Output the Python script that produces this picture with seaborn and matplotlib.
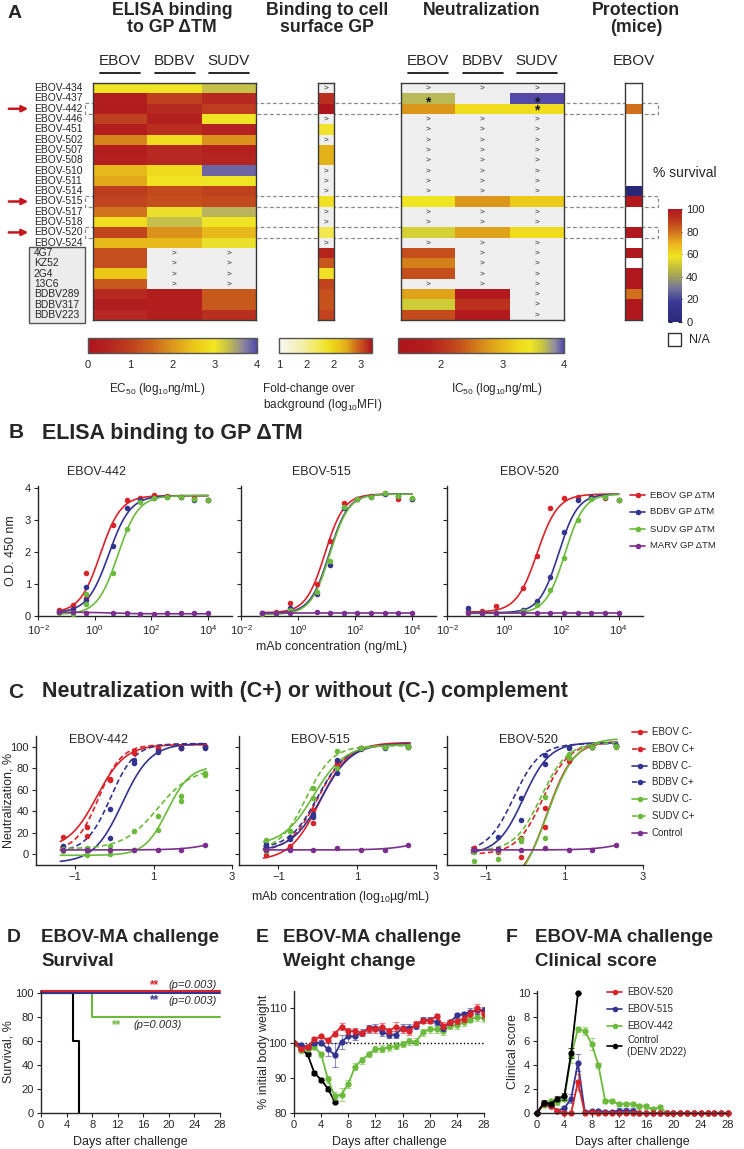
import numpy as np
import pandas as pd
import matplotlib
matplotlib.use('Agg')
import matplotlib.pyplot as plt
import matplotlib.cm as cm
import seaborn as sns
from matplotlib.colors import LinearSegmentedColormap, Normalize
from matplotlib.patches import Rectangle
from matplotlib.ticker import NullLocator

sns.set_style('ticks')
plt.rcParams['font.family'] = ['Liberation Sans', 'DejaVu Sans']
plt.rcParams['mathtext.fontset'] = 'custom'
plt.rcParams['mathtext.rm'] = 'Liberation Sans'
plt.rcParams['mathtext.it'] = 'Liberation Sans:italic'
plt.rcParams['mathtext.bf'] = 'Liberation Sans:bold'
plt.rcParams['mathtext.default'] = 'regular'

# ---------------- data: panel A ----------------
ND = np.inf      # ">" (not reached)
NA = np.nan      # blank
rows = ['EBOV-434', 'EBOV-437', 'EBOV-442', 'EBOV-446', 'EBOV-451', 'EBOV-502',
        'EBOV-507', 'EBOV-508', 'EBOV-510', 'EBOV-511', 'EBOV-514', 'EBOV-515',
        'EBOV-517', 'EBOV-518', 'EBOV-520', 'EBOV-524', '4G7', 'KZ52', '2G4',
        '13C6', 'BDBV289', 'BDBV317', 'BDBV223']
highlight = ['EBOV-442', 'EBOV-515', 'EBOV-520']
controls = ['4G7', 'KZ52', '2G4', '13C6', 'BDBV289', 'BDBV317', 'BDBV223']
viruses = ['EBOV', 'BDBV', 'SUDV']

# ELISA EC50 (log10 ng/mL)
elisa_ebov = [3.0, 0.3, 0.25, 1.0, 0.3, 1.8, 0.3, 0.35, 2.35, 2.2, 0.95, 1.05,
              1.65, 2.85, 1.05, 2.35, 1.2, 1.2, 2.5, 1.35, 0.6, 0.25, 0.55]
elisa_bdbv = [3.0, 1.0, 0.6, 0.4, 0.7, 2.85, 0.6, 0.55, 2.8, 2.95, 1.15, 1.2,
              3.05, 3.3, 1.95, 2.35, ND, ND, ND, ND, 0.3, 0.3, 0.3]
elisa_sudv = [3.3, 0.6, 0.95, 3.0, 0.45, 1.95, 0.4, 0.5, 3.85, 3.0, 1.0, 1.15,
              3.4, 3.0, 2.35, 3.05, ND, ND, ND, ND, 1.35, 1.35, 0.7]
# cell-surface GP binding (log10 MFI fold change)
cell_fold = [ND, 2.62, 2.72, ND, 1.85, ND, 2.2, 2.2, ND, ND, ND, 1.88,
             ND, ND, 1.75, ND, 2.65, 2.48, 1.88, 2.55, 2.5, 2.5, 2.55]
# neutralization IC50 (log10 ng/mL)
neut_ebov = [ND, 3.7, 2.75, ND, ND, ND, ND, ND, ND, ND, ND, 3.42,
             ND, ND, 3.58, ND, 2.3, 2.6, 2.3, ND, 2.85, 3.62, 2.25]
neut_bdbv = [ND, NA, 3.3, ND, ND, ND, ND, ND, ND, ND, ND, 2.75,
             ND, ND, 2.85, ND, ND, ND, ND, ND, 1.6, 2.0, 1.6]
neut_sudv = [ND, 4.0, 3.3, ND, ND, ND, ND, ND, ND, ND, ND, 3.15,
             ND, ND, 3.3, ND, ND, ND, ND, ND, ND, ND, ND]
neut_stars = [('EBOV-437', 'EBOV'), ('EBOV-437', 'SUDV'), ('EBOV-442', 'SUDV')]
# protection, % survival
survival_pct = [NA, NA, 80, NA, NA, NA, NA, NA, NA, NA, 0, 100,
                NA, NA, 100, NA, 100, NA, 100, 100, 80, 100, 100]

# ---------------- data: panel B (ELISA curves) ----------------
elisa_logc = [-1.25, -0.77, -0.29, 0.66, 1.14, 1.61, 2.09, 2.57, 3.05, 3.52, 4.0]
antigens = ['EBOV', 'BDBV', 'SUDV', 'MARV']
elisa_442 = {'EBOV': [0.18, 0.33, 1.35, 2.83, 3.6, 3.68, 3.77, 3.75, 3.72, 3.68, 3.62],
             'BDBV': [0.12, 0.22, 0.9, 2.17, 3.35, 3.6, 3.68, 3.72, 3.7, 3.62, 3.62],
             'SUDV': [0.08, 0.06, 0.7, 1.33, 2.72, 3.55, 3.68, 3.7, 3.7, 3.65, 3.6],
             'MARV': [0.12, 0.11, 0.1, 0.08, 0.08, 0.07, 0.07, 0.08, 0.08, 0.08, 0.08]}
elisa_442_repeat = {'EBOV': 0.55, 'BDBV': 0.5, 'SUDV': 0.38}   # second point at -0.29
elisa_515 = {'EBOV': [0.1, 0.13, 0.4, 1.0, 2.33, 3.52, 3.66, 3.73, 3.83, 3.64, 3.63],
             'BDBV': [0.08, 0.1, 0.25, 0.67, 1.6, 3.37, 3.65, 3.72, 3.8, 3.75, 3.65],
             'SUDV': [0.05, 0.08, 0.2, 0.75, 1.7, 3.4, 3.65, 3.72, 3.82, 3.75, 3.68],
             'MARV': [0.1, 0.1, 0.1, 0.12, 0.1, 0.1, 0.1, 0.1, 0.1, 0.1, 0.1]}
elisa_520 = {'EBOV': [0.15, 0.15, 0.3, 0.87, 1.87, 3.35, 3.68, 3.72, 3.72, 3.68, 3.62],
             'BDBV': [0.25, 0.1, 0.1, 0.2, 0.47, 1.2, 2.62, 3.6, 3.72, 3.72, 3.62],
             'SUDV': [0.1, 0.08, 0.1, 0.15, 0.35, 0.82, 1.8, 2.98, 3.65, 3.7, 3.62],
             'MARV': [0.1, 0.1, 0.1, 0.1, 0.1, 0.1, 0.1, 0.1, 0.1, 0.1, 0.1]}
# fitted 4PL (bottom, top, logEC50, hill)
elisa_fit_442 = {'EBOV': (0.1, 3.75, 0.2, 1.2), 'BDBV': (0.1, 3.75, 0.5, 1.15),
                 'SUDV': (0.05, 3.75, 0.82, 1.2), 'MARV': (0.12, 0.07, 0.5, 1.0)}
elisa_fit_515 = {'EBOV': (0.1, 3.8, 0.95, 1.3), 'BDBV': (0.08, 3.8, 1.1, 1.3),
                 'SUDV': (0.05, 3.8, 1.12, 1.3), 'MARV': (0.1, 0.1, 1.0, 1.0)}
elisa_fit_520 = {'EBOV': (0.12, 3.8, 1.15, 1.2), 'BDBV': (0.1, 3.8, 1.9, 1.3),
                 'SUDV': (0.08, 3.8, 2.12, 1.3), 'MARV': (0.1, 0.1, 1.0, 1.0)}

# ---------------- data: panel C (neutralization) ----------------
neut_logc = [-1.31, -0.71, -0.11, 0.49, 1.10, 1.70, 2.30]
neut_series = ['EBOV C-', 'EBOV C+', 'BDBV C-', 'BDBV C+', 'SUDV C-', 'SUDV C+', 'Control']
neut_442 = {'EBOV C-': [16, 25, 69, 96, 99, 100, 100],
            'EBOV C+': [7, 17, 70, 94, 98, 99, 101],
            'BDBV C-': [5, 5, 15, 85, 95, 99, 99],
            'BDBV C+': [8, 4, 42, 88, 96, 99, 100],
            'SUDV C-': [3, -1, 0, 4, 23, 50, 74],
            'SUDV C+': [5, 6, 8, 22, 36, 54, 76],
            'Control': [4, 4, 4, 4, 4, 4, 9]}
neut_515 = {'EBOV C-': [-1, 8, 29, 84, 99, 100, 101],
            'EBOV C+': [5, 5, 41, 86, 99, 100, 100],
            'BDBV C-': [8, 14, 35, 88, 98, 99, 100],
            'BDBV C+': [10, 16, 37, 76, 99, 100, 101],
            'SUDV C-': [13, 22, 52, 80, 99, 100, 100],
            'SUDV C+': [3, 22, 62, 96, 99, 100, 101],
            'Control': [4, 4, 4, 6, 4, 4, 9]}
neut_520 = {'EBOV C-': [5, 2, -3, 25, 87, 100, 101],
            'EBOV C+': [6, 5, 15, 43, 90, 100, 100],
            'BDBV C-': [4, 16, 32, 84, 99, 100, 101],
            'BDBV C+': [3, 5, 52, 92, 100, 100, 102],
            'SUDV C-': [-6, -4, 12, 15, 90, 100, 100],
            'SUDV C+': [2, 3, 14, 53, 93, 100, 101],
            'Control': [4, 4, 4, 6, 4, 4, 9]}
neut_fit_442 = {'EBOV C-': (5, 102, -0.45, 1.2), 'EBOV C+': (3, 102, -0.4, 1.5),
                'BDBV C-': (-8, 103, 0.2, 1.2), 'BDBV C+': (2, 103, -0.1, 1.4),
                'SUDV C-': (-1, 82, 1.35, 1.5), 'SUDV C+': (5, 80, 1.1, 1.0),
                'Control': (4, 30, 3.0, 1.0)}
neut_fit_515 = {'EBOV C-': (-6, 104, 0.05, 1.15), 'EBOV C+': (2, 102, 0.0, 1.2),
                'BDBV C-': (3, 103, 0.1, 1.15), 'BDBV C+': (5, 102, 0.0, 1.2),
                'SUDV C-': (8, 102, -0.1, 1.1), 'SUDV C+': (3, 101, -0.3, 1.3),
                'Control': (4, 30, 3.0, 1.0)}
neut_fit_520 = {'EBOV C-': (-30, 105, 0.55, 1.3), 'EBOV C+': (0, 104, 0.45, 1.3),
                'BDBV C-': (0, 104, -0.05, 1.3), 'BDBV C+': (2, 103, -0.3, 1.3),
                'SUDV C-': (-35, 108, 0.55, 1.2), 'SUDV C+': (3, 104, 0.4, 1.3),
                'Control': (4, 30, 3.0, 1.0)}

# ---------------- data: panels D-F (mice) ----------------
mabs = ['EBOV-520', 'EBOV-515', 'EBOV-442', 'Control']
surv_days = {'EBOV-520': [0, 28], 'EBOV-515': [0, 28], 'EBOV-442': [0, 8, 28],
             'Control': [0, 5, 6]}
surv_vals = {'EBOV-520': [100, 100], 'EBOV-515': [100, 100], 'EBOV-442': [100, 80, 80],
             'Control': [100, 60, 0]}
days = list(range(29))
weight = {'EBOV-520': [100, 98.4, 99, 101.2, 102, 100.8, 102.8, 104.8, 103.5, 103.5, 103, 104, 104,
                       104.8, 103.5, 104.8, 104, 103.5, 105.5, 106.5, 106.5, 107.8, 105, 106, 106.3,
                       107, 108.5, 110, 108.5],
          'EBOV-515': [100, 99.5, 99, 100, 100.2, 98.3, 96.7, 100.5, 102, 102, 103, 104.3, 104.5,
                       103.2, 102.5, 102.5, 104.5, 104.5, 105, 106.7, 106.7, 106, 104.5, 106, 108,
                       108.3, 109, 109.5, 109.5],
          'EBOV-442': [100, 98, 98.5, 99, 96.8, 89.7, 84.8, 85.3, 88.4, 93.3, 95.2, 96.8, 98.3,
                       98.5, 98.8, 99.3, 99.8, 100.6, 100.5, 103.2, 104, 104, 103.5, 105, 105.2,
                       106, 106.8, 107.5, 107.2],
          'Control': [100, 98.5, 96.8, 91.5, 89.5, 87, 83.2]}
weight_err = {'EBOV-520': [0, 0.5, 0.5, 0.5, 0.5, 0.8, 0.8, 1.0, 1.0, 1.0, 0.5, 1.0, 1.0, 1.0, 0.8,
                           1.2, 1.0, 1.0, 0.8, 0.8, 0.8, 0.6, 1.0, 0.8, 0.8, 1.0, 1.0, 1.3, 1.2],
              'EBOV-515': [0, 0.5, 0.5, 0.6, 0.8, 2.0, 3.5, 2.0, 1.5, 1.0, 1.0, 1.0, 1.0, 1.0, 1.0,
                           1.0, 1.0, 1.0, 1.0, 0.8, 0.8, 0.8, 1.0, 0.8, 0.8, 0.8, 1.0, 1.0, 1.0],
              'EBOV-442': [0, 0.8, 0.6, 0.6, 0.6, 1.0, 1.2, 1.8, 1.2, 1.0, 1.0, 0.8, 0.8, 1.0, 1.0,
                           1.0, 0.8, 1.0, 1.0, 1.0, 1.0, 1.0, 1.0, 1.0, 1.0, 1.0, 0.8, 1.0, 1.2],
              'Control': [0, 0.5, 0.5, 0.5, 0.6, 0.8, 0.4]}
score = {'EBOV-520': [0, 0.8, 0.6, 0.2, 0, 0, 2.6, 0, 0.1, 0, 0, 0, 0, 0, 0, 0, 0, 0, 0, 0,
                      0, 0, 0, 0, 0, 0, 0, 0, 0],
         'EBOV-515': [0, 0.8, 0.6, 0.2, 0.4, 1.2, 4.2, 0.1, 0.15, 0.15, 0.1, 0.1, 0.2, 0.2, 0.2,
                      0, 0, 0, 0, 0, 0, 0, 0, 0, 0, 0, 0, 0, 0],
         'EBOV-442': [0, 0.7, 1.0, 0.9, 1.2, 4.8, 7.0, 6.85, 5.8, 4.0, 1.0, 1.0, 0.75, 0.75, 0.75,
                      0.55, 0.55, 0.3, 0.5, 0, 0, 0, 0, 0, 0, 0, 0, 0, 0],
         'Control': [0, 0.85, 0.75, 1.2, 1.4, 5.0, 10.0]}
score_err = {'EBOV-520': [0, 0.2, 0, 0, 0, 0, 0.7] + [0] * 22,
             'EBOV-515': [0, 0.2, 0.2, 0, 0.2, 0.4, 0.7, 0, 0, 0, 0, 0, 0.2, 0.2, 0.2] + [0] * 14,
             'EBOV-442': [0, 0.2, 0.2, 0.2, 0.2, 0.6, 0.2, 0.3, 0.5, 0.2, 0.15, 0.15, 0.2, 0.2,
                          0.2, 0.2, 0.2, 0.2, 0.2] + [0] * 10,
             'Control': [0, 0.2, 0.2, 0.2, 0.3, 0.4, 0]}

# ---------------- styles ----------------
RED, BLUE, GREEN, PURPLE = '#d8232a', '#33348f', '#6cba3c', '#7b2f8e'
ag_colors = {'EBOV': RED, 'BDBV': BLUE, 'SUDV': GREEN, 'MARV': PURPLE}
nt_colors = {'EBOV C-': RED, 'EBOV C+': RED, 'BDBV C-': BLUE, 'BDBV C+': BLUE,
             'SUDV C-': GREEN, 'SUDV C+': GREEN, 'Control': PURPLE}
mab_colors = {'EBOV-520': RED, 'EBOV-515': BLUE, 'EBOV-442': GREEN, 'Control': 'black'}
surv_offset = {'EBOV-520': 2.0, 'EBOV-515': 0.7, 'EBOV-442': 0, 'Control': 0}
DASH = (0, (3.2, 1.8))

cmap_ec = LinearSegmentedColormap.from_list('ec', [
    (0 / 4, '#ae141c'), (0.5 / 4, '#b42420'), (1.0 / 4, '#bf401e'), (1.5 / 4, '#cc641c'),
    (2.0 / 4, '#dc981c'), (2.5 / 4, '#ebc618'), (3.0 / 4, '#f2e622'), (3.35 / 4, '#c0bc50'),
    (3.7 / 4, '#8a84a0'), (1.0, '#5448a8')])
cmap_cell = LinearSegmentedColormap.from_list('cell', [
    (0.0, '#f7f7f4'), (0.4 / 1.7, '#f4f0b0'), (0.75 / 1.7, '#f2e84c'), (0.9 / 1.7, '#f0e020'),
    (1.1 / 1.7, '#e8c418'), (1.25 / 1.7, '#e0a818'), (1.45 / 1.7, '#cc601c'),
    (1.6 / 1.7, '#bc341e'), (1.0, '#ae141c')])
nlo, nhi = 1.3, 4.0
cmap_ic = LinearSegmentedColormap.from_list('ic', [
    ((v - nlo) / (nhi - nlo), c) for v, c in [
        (1.3, '#ae141c'), (1.8, '#b41e1e'), (2.0, '#bc301e'), (2.3, '#c4501c'),
        (2.7, '#d8901a'), (3.0, '#e6b818'), (3.3, '#f0dc1c'), (3.45, '#f0e624'),
        (3.65, '#c8c83c'), (3.85, '#9090a0'), (4.0, '#5448a8')]])
cmap_surv = LinearSegmentedColormap.from_list('surv', [
    (0.0, '#2a2878'), (0.18, '#3a3a94'), (0.3, '#76769a'), (0.42, '#a8a850'), (0.58, '#f0e420'),
    (0.7, '#eab020'), (0.8, '#d0701c'), (0.9, '#bc3a1e'), (1.0, '#b0181e')])

W, H = 744, 1149


def px(x0, y0, x1, y1):
    return [x0 / W, 1 - y1 / H, (x1 - x0) / W, (y1 - y0) / H]


def logistic(x, bottom, top, ec50, hill):
    return bottom + (top - bottom) / (1 + 10 ** ((ec50 - x) * hill))


fig = plt.figure(figsize=(W / 100, H / 100), dpi=100)
bg = fig.add_axes([0, 0, 1, 1])
bg.set_xlim(0, W)
bg.set_ylim(H, 0)
bg.axis('off')

# ================= Panel A =================
TOP, BOT = 83, 320
rh = (BOT - TOP) / len(rows)
ELISA_X, CELL_X, NEUT_X, PROT_X = (93, 256), (318, 334), (401, 564), (625, 642)


def heat(xr, data, cmap, vmin, vmax, nan_color):
    ax = fig.add_axes(px(xr[0], TOP, xr[1], BOT))
    arr = np.array(data, dtype=float)
    if arr.ndim == 1:
        arr = arr[:, None]
    show = np.where(np.isfinite(arr), arr, np.nan)
    sns.heatmap(show, ax=ax, mask=~np.isfinite(arr), cmap=cmap, vmin=vmin, vmax=vmax,
                cbar=False, xticklabels=False, yticklabels=False)
    ax.set_facecolor(nan_color)
    for i, j in zip(*np.where(np.isinf(arr))):
        ax.text(j + 0.5, i + 0.5, '>', ha='center', va='center', fontsize=6, color='#222222')
    for s in ax.spines.values():
        s.set_visible(True)
        s.set_color('#3a3a3a')
        s.set_linewidth(1)
    return ax


# dashed boxes behind the heatmaps
for name in highlight:
    i = rows.index(name)
    bg.add_patch(Rectangle((85, TOP + i * rh - 0.5), 658 - 85, rh + 1, fill=False,
                           ec='#8a8a8a', lw=0.9, ls=(0, (3, 2))))
    y = TOP + (i + 0.5) * rh
    bg.annotate('', xy=(31, y), xytext=(6, y),
                arrowprops=dict(arrowstyle='-|>', color='#c4161c', lw=1.8, mutation_scale=9))

# control mAb box
c0 = rows.index(controls[0])
bg.add_patch(Rectangle((29, TOP + c0 * rh - 1), 56, (len(rows) - c0) * rh + 4,
                       fc='#ececec', ec='#555555', lw=1))
for i, name in enumerate(rows):
    bg.text(34, TOP + (i + 0.5) * rh, name, fontsize=7.4, va='center', ha='left')

ax_el = heat(ELISA_X, np.column_stack([elisa_ebov, elisa_bdbv, elisa_sudv]),
             cmap_ec, 0, 4, '#efefef')
ax_cell = heat(CELL_X, cell_fold, cmap_cell, 1, 2.7, '#efefef')
ax_nt = heat(NEUT_X, np.column_stack([neut_ebov, neut_bdbv, neut_sudv]),
             cmap_ic, nlo, nhi, '#efefef')
ax_pr = heat(PROT_X, survival_pct, cmap_surv, 0, 100, 'white')
for r, v in neut_stars:
    i, j = rows.index(r), viruses.index(v)
    dy = 0.38 if r == 'EBOV-437' else 0.12
    ax_nt.text(j + 0.5, i + 0.5 + dy, '*', ha='center', va='center', fontsize=10,
               fontweight='bold', color='#111111')

# headers
for xc, txt in [(172, 'ELISA binding\nto GP ΔTM'), (327, 'Binding to cell\nsurface GP'),
                (482, 'Neutralization'), (636, 'Protection\n(mice)')]:
    bg.text(xc, 2, txt, ha='center', va='top', fontsize=12.8, fontweight='bold',
            linespacing=1.02)
bg.text(8, 14, 'A', fontsize=14, fontweight='bold', va='center')
for xr in (ELISA_X, NEUT_X):
    cw = (xr[1] - xr[0]) / 3
    for j, v in enumerate(viruses):
        xc = xr[0] + (j + 0.5) * cw
        bg.text(xc, 61, v, ha='center', va='center', fontsize=11)
        bg.plot([xc - 20, xc + 20], [73, 73], color='black', lw=1.2)
bg.text(sum(PROT_X) / 2, 61, 'EBOV', ha='center', va='center', fontsize=11)


def hbar(x0, x1, cmap, vmin, vmax, ticks, labels):
    cax = fig.add_axes(px(x0, 338, x1, 353))
    cb = fig.colorbar(cm.ScalarMappable(Normalize(vmin, vmax), cmap), cax=cax,
                      orientation='horizontal')
    cb.set_ticks(ticks)
    cb.set_ticklabels(labels)
    cax.tick_params(labelsize=8, length=3, width=0.8, direction='in', top=True, pad=5)
    cb.outline.set_edgecolor('#555555')
    cb.outline.set_linewidth(1)


hbar(88, 257, cmap_ec, 0, 4, [0, 1, 2, 3, 4], ['0', '1', '2', '3', '4'])
hbar(279, 372, cmap_cell, 1, 2.7, [1, 1.5, 2, 2.5], ['1', '2', '2', '3'])
hbar(398, 564, cmap_ic, nlo, nhi, [2, 3, 4], ['2', '3', '4'])
bg.text(157, 389, 'EC$_{50}$ (log$_{10}$ng/mL)', ha='center', va='center', fontsize=8.5)
bg.text(263, 389, 'Fold-change over', ha='left', va='center', fontsize=8.5)
bg.text(263, 405, 'background (log$_{10}$MFI)', ha='left', va='center', fontsize=8.5)
bg.text(497, 389, 'IC$_{50}$ (log$_{10}$ng/mL)', ha='center', va='center', fontsize=8.5)

sax = fig.add_axes(px(668, 209, 682, 322))
scb = fig.colorbar(cm.ScalarMappable(Normalize(0, 100), cmap_surv), cax=sax)
scb.set_ticks([0, 20, 40, 60, 80, 100])
sax.tick_params(labelsize=8, length=3, width=0.8, direction='in', left=True, pad=3)
scb.outline.set_linewidth(0)
bg.text(653, 173, '% survival', fontsize=10, va='center')
bg.add_patch(Rectangle((668, 333), 13, 13, fc='white', ec='#333333', lw=1))
bg.text(689, 340, 'N/A', fontsize=9, va='center')


def prism(ax, labels=True):
    sns.despine(ax=ax)
    ax.patch.set_visible(False)
    ax.tick_params(labelsize=8, length=3, width=0.8, pad=2)
    for s in ('left', 'bottom'):
        ax.spines[s].set_linewidth(1)
    if not labels:
        ax.tick_params(labelleft=False)


def ylab(ax, text, xcenter, x0):
    # ylabel centred at pixel column xcenter (label anchor is its right edge)
    ax.set_ylabel(text, fontsize=9)
    bb = ax.get_position()
    ax.yaxis.set_label_coords((xcenter + 6 - x0) / (bb.width * W), 0.5)


# ================= Panel B =================
bg.text(16, 433, 'B', fontsize=15, fontweight='bold', ha='center', va='center')
bg.text(42, 433, 'ELISA binding to GP ΔTM', fontsize=15.5, fontweight='bold', va='center')
B_X = [(38, 232), (241, 436), (447, 643)]
grid_b = np.linspace(elisa_logc[0], elisa_logc[-1], 200)
for k, (title, pts, fit, tx) in enumerate([('EBOV-442', elisa_442, elisa_fit_442, 97),
                                           ('EBOV-515', elisa_515, elisa_fit_515, 321),
                                           ('EBOV-520', elisa_520, elisa_fit_520, 529)]):
    ax = fig.add_axes(px(B_X[k][0], 486, B_X[k][1], 616))
    for ag in antigens:
        c = ag_colors[ag]
        sns.lineplot(x=10 ** grid_b, y=logistic(grid_b, *fit[ag]), ax=ax, color=c, lw=1.2,
                     estimator=None, sort=False)
        sns.scatterplot(x=10 ** np.array(elisa_logc), y=pts[ag], ax=ax, color=c, s=16,
                        linewidth=0, zorder=3, clip_on=False, legend=False)
        if title == 'EBOV-442' and ag in elisa_442_repeat:
            sns.scatterplot(x=[10 ** elisa_logc[2]], y=[elisa_442_repeat[ag]], ax=ax, color=c,
                            s=16, linewidth=0, zorder=3, legend=False)
    ax.set_xscale('log')
    ax.set_xlim(1e-2, 10 ** 4.85)
    ax.set_ylim(0, 4.05)
    ax.set_xticks([1e-2, 1, 1e2, 1e4])
    ax.xaxis.set_minor_locator(NullLocator())
    ax.set_yticks([0, 1, 2, 3, 4])
    ax.set_xlabel('')
    prism(ax, labels=(k == 0))
    if k == 0:
        ylab(ax, 'O.D. 450 nm', 11, B_X[k][0])
    bg.text(tx, 472, title, ha='center', va='center', fontsize=9)
bg.text(332, 647, 'mAb concentration (ng/mL)', ha='center', va='center', fontsize=9)

# ================= Panel C =================
bg.text(16, 692, 'C', fontsize=15, fontweight='bold', ha='center', va='center')
bg.text(42, 692, 'Neutralization with (C+) or without (C-) complement', fontsize=15.5,
        fontweight='bold', va='center')
C_X = [(36, 232), (239, 436), (447, 643)]
grid_c = np.linspace(-1.38, 2.34, 200)
for k, (title, pts, fit, tx) in enumerate([('EBOV-442', neut_442, neut_fit_442, 98),
                                           ('EBOV-515', neut_515, neut_fit_515, 320),
                                           ('EBOV-520', neut_520, neut_fit_520, 528)]):
    ax = fig.add_axes(px(C_X[k][0], 736, C_X[k][1], 865))
    for s in neut_series:
        c = nt_colors[s]
        ls = DASH if s.endswith('C+') else '-'
        sns.lineplot(x=grid_c, y=logistic(grid_c, *fit[s]), ax=ax, color=c, lw=1.2,
                     linestyle=ls, estimator=None, sort=False)
        sns.scatterplot(x=neut_logc, y=pts[s], ax=ax, color=c, s=16, linewidth=0, zorder=3,
                        legend=False)
    ax.set_xlim(-2, 3)
    ax.set_ylim(-10, 110)
    ax.set_xticks([-1, 1, 3])
    ax.set_yticks([0, 20, 40, 60, 80, 100])
    ax.set_xlabel('')
    prism(ax, labels=(k == 0))
    if k == 0:
        ylab(ax, 'Neutralization, %', 9, C_X[k][0])
    bg.text(tx, 740, title, ha='center', va='center', fontsize=9)
bg.text(341, 897, 'mAb concentration (log$_{10}$µg/mL)', ha='center', va='center', fontsize=9)

# ================= Panels D-F =================
for lx, tx, letter, sub in [(14, 41, 'D', 'Survival'), (262, 283, 'E', 'Weight change'),
                            (512, 535, 'F', 'Clinical score')]:
    bg.text(lx, 938, letter, fontsize=14, fontweight='bold', ha='center', va='center')
    bg.text(tx, 938, 'EBOV-MA challenge', fontsize=13.5, fontweight='bold', va='center')
    bg.text(tx, 962, sub, fontsize=13.5, fontweight='bold', va='center')

# D survival
axd = fig.add_axes(px(41, 991, 220, 1113))
for m in ['Control', 'EBOV-442', 'EBOV-515', 'EBOV-520']:
    sns.lineplot(x=surv_days[m], y=np.array(surv_vals[m]) + surv_offset[m], ax=axd,
                 color=mab_colors[m], lw=1.5, drawstyle='steps-post', estimator=None,
                 sort=False, clip_on=False)
axd.set_xlim(0, 28)
axd.set_ylim(0, 102)
axd.set_xticks(range(0, 29, 4))
axd.set_yticks(range(0, 101, 20))
prism(axd)
axd.set_xlabel('Days after challenge', fontsize=9)
ylab(axd, 'Survival, %', 9, 41)
for (sx, tx_, sy, c) in [(17.7, 20, 107, RED), (17.7, 20, 94, BLUE), (11.9, 14.4, 73.5, GREEN)]:
    axd.text(sx, sy, '**', color=c, fontsize=8.5, fontweight='bold', ha='center', va='center')
    axd.text(tx_, sy, '(p=0.003)', fontsize=8, style='italic', va='center')

# E weight
axe = fig.add_axes(px(294, 991, 484, 1113))
axe.axhline(100, color='black', ls=':', lw=1, zorder=0)
for m in ['Control', 'EBOV-442', 'EBOV-515', 'EBOV-520']:
    d = days[:len(weight[m])]
    axe.errorbar(d, weight[m], yerr=weight_err[m], fmt='none', ecolor=mab_colors[m],
                 alpha=0.55, elinewidth=0.8, capsize=2, capthick=0.8)
    sns.lineplot(x=d, y=weight[m], ax=axe, color=mab_colors[m], lw=1.3, marker='o',
                 markersize=4.5, markeredgewidth=0, estimator=None, sort=False)
axe.set_xlim(0, 28)
axe.set_ylim(80, 115)
axe.set_xticks(range(0, 29, 4))
axe.set_yticks([80, 90, 100, 110])
prism(axe)
axe.set_xlabel('Days after challenge', fontsize=9)
ylab(axe, '% initial body weight', 264, 294)

# F clinical score
axf = fig.add_axes(px(537, 991, 728, 1113))
for m in ['EBOV-442', 'EBOV-515', 'EBOV-520', 'Control']:
    d = days[:len(score[m])]
    axf.errorbar(d, score[m], yerr=score_err[m], fmt='none', ecolor=mab_colors[m],
                 alpha=0.55, elinewidth=0.8, capsize=2, capthick=0.8)
    sns.lineplot(x=d, y=score[m], ax=axf, color=mab_colors[m], lw=1.3, marker='o',
                 markersize=4.5, markeredgewidth=0, estimator=None, sort=False, clip_on=False)
axf.set_xlim(0, 28)
axf.set_ylim(0, 10.2)
axf.set_xticks(range(0, 29, 4))
axf.set_yticks(range(0, 11, 2))
prism(axf)
axf.set_xlabel('Days after challenge', fontsize=9)
ylab(axf, 'Clinical score', 513, 537)

# ================= legends (overlay) =================
fg = fig.add_axes([0, 0, 1, 1], zorder=5)
fg.set_xlim(0, W)
fg.set_ylim(H, 0)
fg.axis('off')


def entry(x, y, color, label, fs, ls='-'):
    fg.plot([x, x + 15], [y, y], color=color, lw=1.2, ls=ls)
    fg.plot([x + 7.5], [y], 'o', color=color, ms=4, mew=0)
    fg.text(x + 20, y, label, va='center', fontsize=fs)


for i, ag in enumerate(antigens):
    entry(630, 495 + 17 * i, ag_colors[ag], ag + ' GP ΔTM', 6.8)
for i, s in enumerate(neut_series):
    entry(632, 732 + 16.8 * i, nt_colors[s], s, 7, ls=DASH if s.endswith('C+') else '-')
for i, m in enumerate(mabs):
    y = 992 + 17 * i
    if m == 'Control':
        entry(607, 1046, 'black', 'Control\n(DENV 2D22)', 7)
    else:
        entry(607, y, mab_colors[m], m, 7)

fig.savefig('out.png', dpi=100)
